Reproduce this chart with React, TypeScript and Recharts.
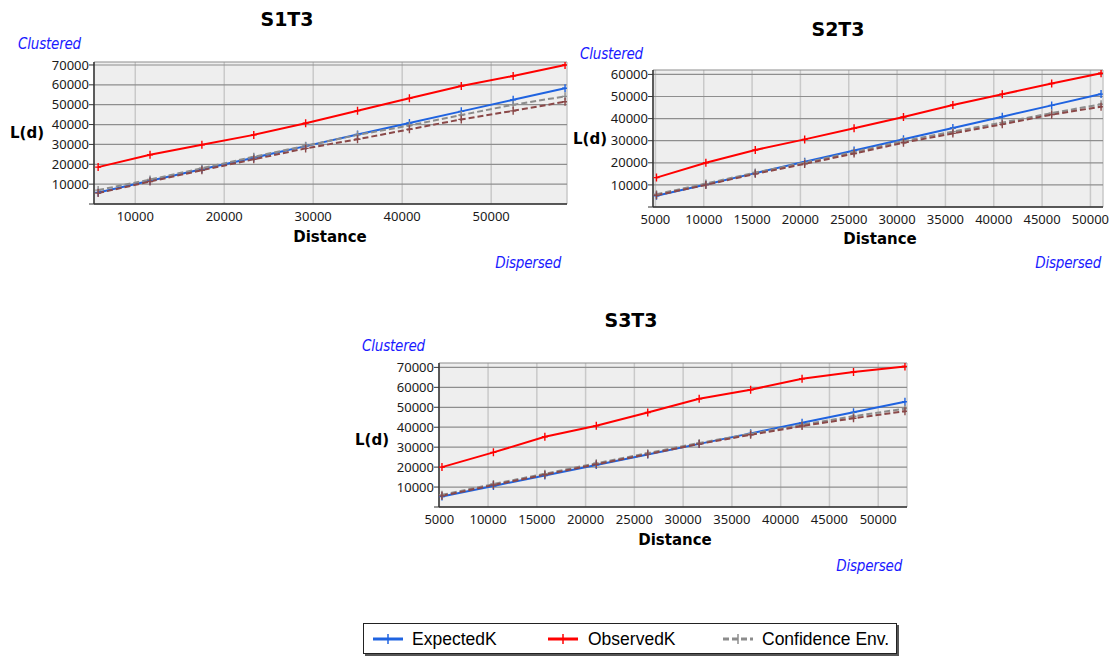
import React from 'react';
import { LineChart, Line, XAxis, YAxis, CartesianGrid } from 'recharts';

// ---------- data ----------
const s1Distance = [5830, 11660, 17490, 23320, 29150, 34980, 40810, 46640, 52470, 58300];
const s1Expected = [5830, 11660, 17490, 23320, 29150, 34980, 40810, 46640, 52470, 58300];
const s1Observed = [18570, 24770, 29800, 34800, 40700, 47000, 53200, 59400, 64500, 70000];
const s1Upper = [7000, 12300, 18000, 23800, 29300, 34800, 39500, 44800, 50000, 54200];
const s1Lower = [5500, 11300, 17000, 22500, 28000, 32600, 37600, 42600, 46900, 51500];
const s1XTicks = [10000, 20000, 30000, 40000, 50000];
const s1YTicks = [0, 10000, 20000, 30000, 40000, 50000, 60000, 70000];

const s2Distance = [5110, 10220, 15330, 20440, 25550, 30660, 35770, 40880, 45990, 51100];
const s2Expected = [5110, 10220, 15330, 20440, 25550, 30660, 35770, 40880, 45990, 51100];
const s2Observed = [13300, 20000, 25800, 30600, 35600, 40700, 46200, 51000, 55900, 60500];
const s2Upper = [5800, 10600, 15600, 20100, 24900, 29900, 34100, 38200, 42500, 46500];
const s2Lower = [5300, 10000, 15000, 19500, 24200, 29100, 33300, 37400, 41800, 45400];
const s2XTicks = [5000, 10000, 15000, 20000, 25000, 30000, 35000, 40000, 45000, 50000];
const s2YTicks = [0, 10000, 20000, 30000, 40000, 50000, 60000];

const s3Distance = [5274, 10548, 15822, 21096, 26370, 31644, 36918, 42192, 47466, 52740];
const s3Expected = [5274, 10548, 15822, 21096, 26370, 31644, 36918, 42192, 47466, 52740];
const s3Observed = [20000, 27400, 35200, 40700, 47400, 54300, 58800, 64300, 67700, 70500];
const s3Upper = [6100, 11500, 16700, 21900, 27000, 32100, 36700, 41300, 45500, 49300];
const s3Lower = [5600, 11000, 16200, 21400, 26500, 31600, 36200, 40600, 44500, 48000];
const s3XTicks = [5000, 10000, 15000, 20000, 25000, 30000, 35000, 40000, 45000, 50000];
const s3YTicks = [0, 10000, 20000, 30000, 40000, 50000, 60000, 70000];

const seriesNames = ['ExpectedK', 'ObservedK', 'Confidence Env.'];

// ---------- styles ----------
const BLUE = '#1f63e0';
const RED = '#ff0000';
const GRAY = '#8c8c8c';
const BROWN = '#8a4848';
const TICK_FONT = '"Noto Sans", sans-serif';
const BOLD_FONT = '"DejaVu Sans", sans-serif';

function build(d: number[], e: number[], o: number[], u: number[], l: number[]) {
  return d.map((x, i) => ({ x, expected: e[i], observed: o[i], upper: u[i], lower: l[i] }));
}

const plusDot = (color: string) => (props: any) => {
  const { cx, cy, index } = props;
  if (cx == null || cy == null) return <g key={`d${index}`} />;
  return (
    <path
      key={`d${index}`}
      d={`M${cx - 3},${cy}h6M${cx},${cy - 4}v8`}
      stroke={color}
      strokeWidth={1.4}
      fill="none"
    />
  );
};

type PanelProps = {
  left: number; top: number; width: number; height: number;
  plotL: number; plotR: number; plotT: number; plotB: number;
  data: any[]; xDomain: [number, number]; yDomain: [number, number];
  xTicks: number[]; yTicks: number[];
};

function Panel(p: PanelProps) {
  const xAxisH = 30;
  const margin = { top: p.plotT, right: p.width - p.plotR, bottom: p.height - p.plotB - xAxisH, left: 0 };
  return (
    <div style={{ position: 'absolute', left: p.left, top: p.top, width: p.width, height: p.height }}>
      <LineChart width={p.width} height={p.height} data={p.data} margin={margin}>
        <CartesianGrid horizontal={false} vertical stroke="#c9c9c9" strokeWidth={1.5} fill="#eeeeee" />
        <CartesianGrid horizontal vertical={false} stroke="#8e8e8e" strokeWidth={1.2} fill="none" />
        <XAxis
          dataKey="x"
          type="number"
          domain={p.xDomain}
          ticks={p.xTicks}
          allowDataOverflow
          height={xAxisH}
          tickSize={3}
          tickMargin={5}
          tick={{ fontFamily: TICK_FONT, fontSize: 13, fill: '#1a1a1a' }}
          axisLine={{ stroke: '#333', strokeWidth: 1.5 }}
          tickLine={false}
          interval={0}
        />
        <XAxis xAxisId="top" dataKey="x" type="number" domain={p.xDomain} orientation="top" height={0}
          tick={false} tickLine={false} axisLine={{ stroke: '#222', strokeWidth: 1.5 }} allowDataOverflow />
        <YAxis
          type="number"
          domain={p.yDomain}
          ticks={p.yTicks}
          allowDataOverflow
          width={p.plotL}
          tickSize={5}
          tickMargin={0}
          interval={0}
          tickFormatter={(v: number) => (v === 0 ? '' : String(v))}
          tick={{ fontFamily: TICK_FONT, fontSize: 13, fill: '#1a1a1a' }}
          axisLine={{ stroke: '#333', strokeWidth: 1.5 }}
          tickLine={{ stroke: '#333' }}
        />
        <YAxis yAxisId="right" type="number" domain={p.yDomain} orientation="right" width={0}
          tick={false} tickLine={false} axisLine={{ stroke: '#222', strokeWidth: 1.5 }} allowDataOverflow />
        <Line dataKey="expected" stroke={BLUE} strokeWidth={2} dot={plusDot(BLUE)} isAnimationActive={false} />
        <Line dataKey="upper" stroke={GRAY} strokeWidth={2} strokeDasharray="6 3" dot={plusDot(GRAY)} isAnimationActive={false} />
        <Line dataKey="lower" stroke={BROWN} strokeWidth={2} strokeDasharray="6 3" dot={plusDot(BROWN)} isAnimationActive={false} />
        <Line dataKey="observed" stroke={RED} strokeWidth={2} dot={plusDot(RED)} isAnimationActive={false} />
      </LineChart>
    </div>
  );
}

function Txt({ x, y, children, anchor = 'left', style }: any) {
  const tx = anchor === 'center' ? 'translate(-50%,-50%)' : anchor === 'right' ? 'translate(-100%,-50%)' : 'translate(0,-50%)';
  return (
    <div style={{ position: 'absolute', left: x, top: y, transform: tx, whiteSpace: 'nowrap', lineHeight: 1, ...style }}>
      {children}
    </div>
  );
}

const titleStyle = { fontFamily: BOLD_FONT, fontWeight: 'bold', fontSize: 19, color: '#000' };
const axisStyle = { fontFamily: BOLD_FONT, fontWeight: 'bold', fontSize: 15, color: '#000' };
const blueItalic = { fontFamily: '"DejaVu Sans Condensed", "DejaVu Sans", sans-serif', fontStretch: 'condensed', fontStyle: 'italic', fontSize: 15, color: '#1a1aff', letterSpacing: -0.2 };

function LegendIcon({ color, dashed }: { color: string; dashed?: boolean }) {
  return (
    <svg width={32} height={12} style={{ position: 'absolute', top: 9 }}>
      <line x1={1} y1={6} x2={31} y2={6} stroke={color} strokeWidth={3} strokeDasharray={dashed ? '6 3' : undefined} />
      <line x1={16} y1={1} x2={16} y2={11} stroke={color} strokeWidth={1.5} />
    </svg>
  );
}

export default function App() {
  const d1 = build(s1Distance, s1Expected, s1Observed, s1Upper, s1Lower);
  const d2 = build(s2Distance, s2Expected, s2Observed, s2Upper, s2Lower);
  const d3 = build(s3Distance, s3Expected, s3Observed, s3Upper, s3Lower);
  const legendText = { position: 'absolute' as const, top: 5, fontFamily: '"Liberation Sans", Arial, sans-serif', fontSize: 17.5, color: '#000', lineHeight: '20px', whiteSpace: 'nowrap' as const };
  return (
    <div style={{ position: 'absolute', left: 0, top: 0, width: 1111, height: 657, background: '#fff', overflow: 'hidden' }}>
      {/* S1T3 */}
      <Panel left={0} top={0} width={580} height={290} plotL={94} plotR={567} plotT={62} plotB={204}
        data={d1} xDomain={[5365, 58520]} yDomain={[0, 71500]} xTicks={s1XTicks} yTicks={s1YTicks} />
      <Txt x={287} y={19} anchor="center" style={titleStyle}>S1T3</Txt>
      <Txt x={18} y={44} style={blueItalic}>Clustered</Txt>
      <Txt x={10} y={133} style={axisStyle}>L(d)</Txt>
      <Txt x={330} y={237} anchor="center" style={axisStyle}>Distance</Txt>
      <Txt x={561} y={263} anchor="right" style={blueItalic}>Dispersed</Txt>

      {/* S2T3 */}
      <Panel left={570} top={0} width={541} height={290} plotL={83} plotR={533} plotT={70} plotB={207}
        data={d2} xDomain={[4750, 51300]} yDomain={[0, 62000]} xTicks={s2XTicks} yTicks={s2YTicks} />
      <Txt x={838} y={29} anchor="center" style={titleStyle}>S2T3</Txt>
      <Txt x={580} y={54} style={blueItalic}>Clustered</Txt>
      <Txt x={573} y={139} style={axisStyle}>L(d)</Txt>
      <Txt x={880} y={239} anchor="center" style={axisStyle}>Distance</Txt>
      <Txt x={1101} y={263} anchor="right" style={blueItalic}>Dispersed</Txt>

      {/* S3T3 */}
      <Panel left={340} top={300} width={600} height={300} plotL={99} plotR={567} plotT={63} plotB={207}
        data={d3} xDomain={[4970, 52950]} yDomain={[0, 72200]} xTicks={s3XTicks} yTicks={s3YTicks} />
      <Txt x={631} y={320} anchor="center" style={titleStyle}>S3T3</Txt>
      <Txt x={362} y={346} style={blueItalic}>Clustered</Txt>
      <Txt x={355} y={440} style={axisStyle}>L(d)</Txt>
      <Txt x={675} y={540} anchor="center" style={axisStyle}>Distance</Txt>
      <Txt x={902} y={566} anchor="right" style={blueItalic}>Dispersed</Txt>

      {/* Legend */}
      <div style={{ position: 'absolute', left: 363, top: 623, width: 532, height: 29, border: '1px solid #222', boxShadow: '2px 2px 0 #555', background: '#fff' }}>
        <div style={{ position: 'absolute', left: 8 }}><LegendIcon color={BLUE} /></div>
        <div style={{ ...legendText, left: 48 }}>{seriesNames[0]}</div>
        <div style={{ position: 'absolute', left: 183 }}><LegendIcon color={RED} /></div>
        <div style={{ ...legendText, left: 224 }}>{seriesNames[1]}</div>
        <div style={{ position: 'absolute', left: 358 }}><LegendIcon color={GRAY} dashed /></div>
        <div style={{ ...legendText, left: 398 }}>{seriesNames[2]}</div>
      </div>
    </div>
  );
}
